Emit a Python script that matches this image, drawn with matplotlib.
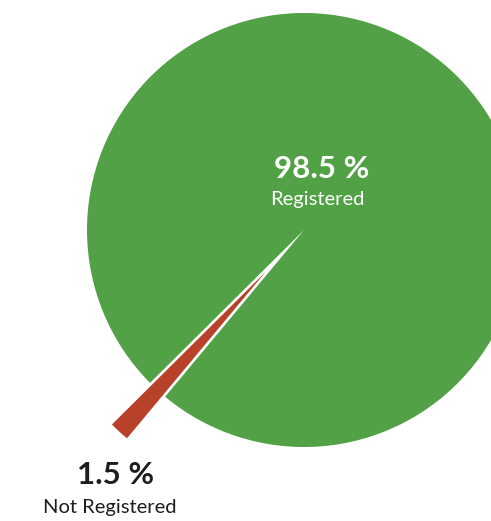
import matplotlib
matplotlib.use("Agg")
import matplotlib.pyplot as plt

labels = ["Registered", "Not Registered"]
shares = [98.5, 1.5]
colors = ["#52A146", "#B8412A"]

W, H = 491, 521
cx, cy = 304, 230          # pie centre in pixels, from top-left
R = 217                    # pie radius in pixels

fig = plt.figure(figsize=(W / 100, H / 100), dpi=100)
ax = fig.add_axes([0, 0, 1, 1])
ax.pie(shares, colors=colors, startangle=230.2, counterclock=True,
       explode=[0, 0.26], radius=1,
       wedgeprops=dict(linewidth=0, antialiased=True))
ax.set_xlim(-cx / R, (W - cx) / R)
ax.set_ylim(-(H - cy) / R, cy / R)
ax.set_aspect("equal")
ax.axis("off")

plt.rcParams["font.family"] = ["Lato", "DejaVu Sans"]


def px(x, y):
    return x / W, 1 - y / H


fig.text(*px(322, 169), f"{shares[0]} %", color="white", fontsize=22.5,
         fontweight="bold", ha="center", va="center")
fig.text(*px(317, 200), labels[0], color="white", fontsize=14.5,
         ha="center", va="center")
fig.text(*px(116, 475), f"{shares[1]} %", color="#1e1e1e", fontsize=22.5,
         fontweight="bold", ha="center", va="center")
fig.text(*px(110, 507), labels[1], color="#1e1e1e", fontsize=14.5,
         ha="center", va="center")

fig.savefig("out.png", dpi=100)
